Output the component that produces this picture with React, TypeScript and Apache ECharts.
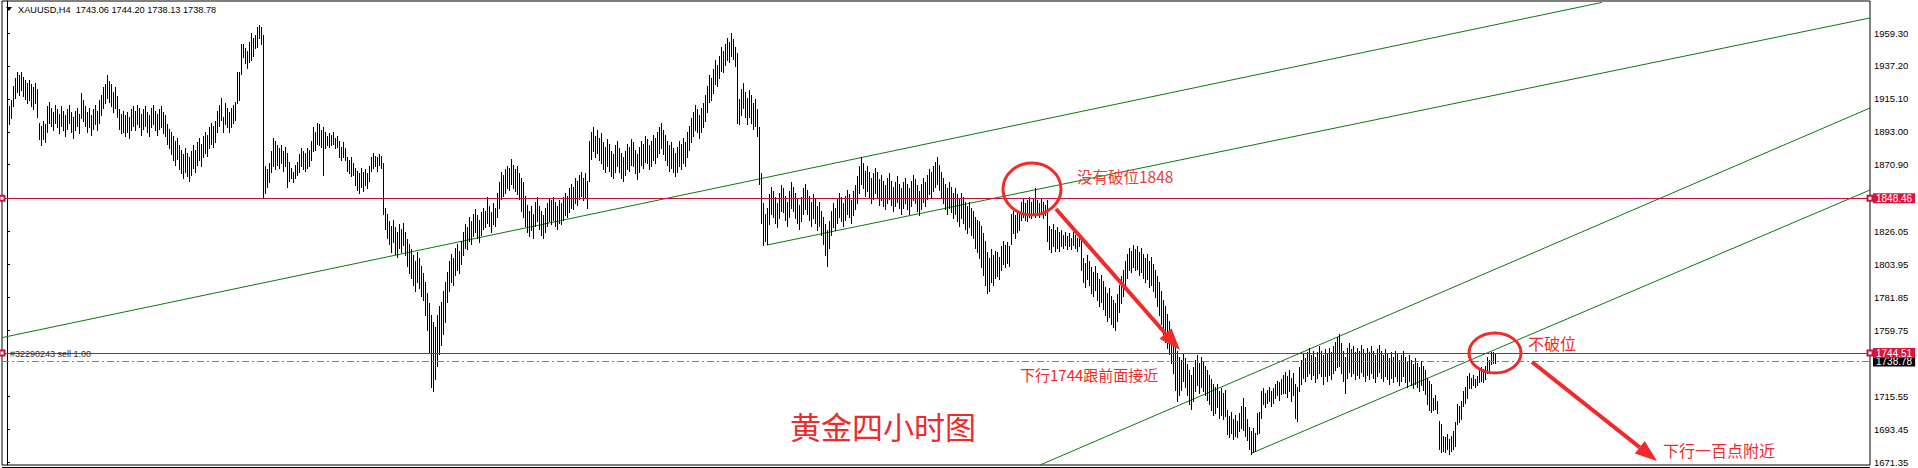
import React, { useEffect, useRef } from 'react';
import * as echarts from 'echarts';

// ---- bar data (4h bars, high / low) ----
const HIGH: number[] = [
  1906,1910,1914,1924,1929,1933,1931,1933,1930,1928,
  1926,1928,1925,1923,1926,1922,1899,1897,1900,1898,
  1910,1913,1909,1906,1911,1908,1905,1910,1907,1904,
  1908,1911,1906,1903,1907,1909,1905,1919,1914,1910,
  1906,1909,1904,1908,1911,1907,1914,1918,1923,1925,
  1931,1927,1925,1920,1923,1917,1908,1905,1907,1904,
  1906,1903,1908,1910,1907,1911,1909,1905,1908,1910,
  1906,1904,1909,1911,1907,1905,1908,1910,1906,1904,
  1898,1895,1893,1890,1887,1889,1884,1881,1878,1882,
  1879,1876,1880,1884,1881,1886,1889,1885,1890,1893,
  1891,1896,1899,1897,1900,1907,1911,1916,1903,1912,
  1909,1906,1909,1911,1913,1933,1933,1952,1952,1949,
  1947,1953,1959,1956,1958,1963,1965,1963,1958,1870,
  1868,1872,1880,1889,1887,1884,1882,1884,1880,1883,
  1879,1873,1869,1866,1871,1873,1878,1882,1880,1879,
  1882,1881,1887,1896,1893,1899,1898,1894,1896,1893,
  1890,1892,1891,1893,1889,1890,1887,1883,1886,1882,
  1876,1874,1876,1872,1869,1867,1865,1869,1866,1868,
  1865,1870,1876,1879,1877,1876,1878,1877,1872,1842,
  1838,1833,1830,1834,1829,1826,1831,1828,1832,1826,
  1821,1818,1814,1810,1806,1812,1808,1803,1798,1792,
  1785,1778,1770,1765,1762,1770,1776,1779,1786,1792,
  1799,1806,1811,1808,1815,1818,1813,1820,1826,1831,
  1829,1836,1833,1838,1841,1837,1834,1839,1842,1840,
  1849,1843,1839,1845,1842,1852,1859,1866,1864,1868,
  1870,1869,1875,1871,1868,1870,1865,1862,1859,1850,
  1844,1840,1843,1838,1846,1849,1843,1840,1837,1842,
  1845,1848,1847,1849,1846,1843,1847,1845,1849,1852,
  1850,1855,1858,1856,1862,1860,1864,1866,1862,1865,
  1860,1887,1893,1896,1890,1894,1889,1892,1886,1883,
  1888,1885,1880,1878,1884,1887,1882,1879,1876,1880,
  1885,1883,1888,1886,1881,1878,1883,1887,1885,1890,
  1888,1884,1887,1891,1889,1893,1896,1899,1894,1891,
  1887,1884,1886,1882,1879,1883,1887,1885,1889,1886,
  1893,1897,1902,1906,1911,1908,1904,1909,1912,1918,
  1924,1931,1929,1935,1941,1938,1944,1950,1947,1952,
  1956,1953,1959,1955,1950,1946,1915,1922,1926,1920,
  1916,1921,1918,1912,1915,1908,1896,1865,1845,1838,
  1842,1851,1856,1853,1849,1845,1852,1857,1855,1850,
  1846,1853,1859,1856,1852,1848,1844,1849,1855,1858,
  1854,1850,1846,1851,1848,1843,1846,1840,1836,1831,
  1827,1833,1840,1845,1842,1848,1852,1849,1845,1850,
  1854,1851,1847,1853,1857,1863,1870,1876,1872,1867,
  1870,1866,1862,1865,1869,1866,1861,1864,1860,1857,
  1862,1865,1860,1856,1859,1863,1858,1855,1859,1862,
  1858,1855,1860,1864,1861,1857,1853,1858,1862,1859,
  1864,1868,1866,1870,1873,1876,1871,1866,1862,1858,
  1855,1859,1856,1852,1855,1851,1848,1852,1849,1846,
  1843,1846,1842,1840,1836,1834,1833,1830,1825,1820,
  1812,1808,1814,1810,1813,1812,1809,1816,1820,1817,
  1819,1816,1838,1840,1837,1840,1838,1846,1848,1845,
  1847,1849,1846,1848,1855,1847,1845,1848,1846,1844,
  1847,1830,1828,1831,1827,1829,1826,1827,1824,1826,
  1823,1825,1822,1826,1824,1822,1825,1823,1808,1805,
  1810,1806,1802,1799,1803,1798,1794,1797,1793,1789,
  1785,1788,1783,1780,1778,1784,1790,1796,1800,1806,
  1811,1815,1813,1817,1814,1816,1812,1815,1811,1808,
  1811,1806,1809,1804,1800,1796,1792,1786,1780,1776,
  1771,1766,1760,1756,1750,1746,1742,1740,1744,1741,
  1737,1733,1730,1735,1740,1743,1738,1742,1739,1736,
  1733,1730,1727,1724,1722,1724,1719,1721,1718,1720,
  1706,1702,1705,1700,1703,1699,1704,1709,1714,1708,
  1700,1695,1692,1694,1691,1704,1705,1719,1721,1718,
  1720,1722,1719,1721,1724,1726,1725,1727,1730,1732,
  1729,1733,1728,1731,1724,1722,1735,1740,1744,1741,
  1745,1748,1743,1746,1742,1745,1749,1746,1743,1747,
  1744,1748,1745,1749,1752,1755,1757,1751,1746,1742,
  1748,1751,1747,1749,1745,1748,1746,1750,1747,1744,
  1748,1745,1749,1746,1743,1747,1750,1746,1743,1747,
  1744,1741,1745,1742,1746,1744,1740,1743,1746,1742,
  1739,1743,1740,1737,1741,1738,1735,1739,1736,1733,
  1728,1726,1724,1714,1716,1712,1699,1697,1689,1688,
  1690,1687,1689,1692,1698,1710,1709,1712,1719,1722,
  1729,1731,1728,1730,1727,1729,1733,1735,1734,1736,
  1742,1740,1745,1745.5,1744.2,
];

const LOW: number[] = [
  1893,1898,1902,1910,1916,1920,1918,1921,1917,1915,
  1912,1914,1910,1908,1912,1903,1888,1884,1888,1886,
  1893,1899,1897,1894,1899,1896,1892,1897,1894,1890,
  1895,1899,1893,1889,1894,1897,1892,1902,1900,1897,
  1893,1896,1891,1895,1898,1894,1899,1904,1909,1912,
  1916,1913,1910,1906,1909,1903,1895,1892,1893,1890,
  1893,1889,1894,1897,1894,1898,1896,1891,1895,1897,
  1893,1890,1896,1898,1894,1891,1895,1896,1892,1890,
  1885,1882,1878,1874,1871,1875,1868,1865,1862,1866,
  1863,1860,1864,1869,1866,1871,1874,1870,1876,1879,
  1877,1882,1885,1883,1886,1893,1897,1901,1893,1898,
  1896,1893,1896,1899,1901,1912,1914,1932,1943,1939,
  1936,1940,1941,1944,1949,1950,1956,1952,1849,1852,
  1856,1859,1866,1870,1868,1871,1869,1872,1867,1870,
  1856,1860,1862,1859,1862,1864,1866,1870,1868,1867,
  1869,1870,1874,1880,1881,1885,1884,1883,1864,1882,
  1884,1883,1884,1885,1882,1883,1876,1874,1876,1874,
  1867,1865,1863,1864,1857,1854,1852,1856,1853,1857,
  1855,1860,1867,1869,1870,1867,1871,1869,1838,1828,
  1822,1818,1812,1819,1811,1809,1815,1812,1817,1810,
  1803,1798,1795,1790,1786,1792,1788,1783,1780,1770,
  1760,1745,1722,1719,1727,1736,1744,1750,1757,1765,
  1779,1786,1792,1790,1797,1800,1798,1804,1810,1815,
  1814,1820,1818,1823,1826,1822,1819,1824,1828,1829,
  1832,1830,1826,1831,1830,1836,1842,1848,1850,1852,
  1855,1854,1858,1855,1853,1851,1848,1840,1836,1830,
  1826,1823,1827,1822,1830,1833,1828,1824,1822,1826,
  1830,1833,1831,1834,1830,1828,1832,1831,1834,1837,
  1836,1839,1842,1841,1845,1844,1848,1850,1847,1849,
  1842,1860,1875,1880,1876,1879,1874,1872,1868,1866,
  1870,1867,1863,1862,1866,1870,1866,1862,1860,1864,
  1868,1867,1871,1870,1865,1861,1866,1871,1869,1873,
  1872,1868,1870,1874,1872,1876,1879,1882,1878,1874,
  1871,1867,1869,1866,1863,1866,1870,1868,1872,1870,
  1876,1881,1886,1890,1894,1893,1889,1893,1896,1900,
  1906,1913,1914,1919,1925,1924,1929,1934,1933,1938,
  1941,1940,1944,1942,1937,1899,1898,1904,1909,1903,
  1898,1903,1899,1895,1897,1890,1858,1832,1817,1820,
  1818,1831,1838,1836,1832,1829,1835,1840,1839,1834,
  1830,1836,1842,1840,1835,1832,1828,1833,1838,1841,
  1838,1834,1830,1835,1832,1827,1830,1824,1818,1810,
  1803,1815,1824,1829,1827,1832,1836,1833,1830,1834,
  1838,1836,1832,1837,1841,1845,1852,1858,1855,1850,
  1853,1849,1845,1848,1852,1849,1844,1847,1843,1841,
  1845,1848,1844,1840,1843,1846,1842,1838,1842,1845,
  1841,1838,1843,1847,1845,1840,1837,1841,1846,1843,
  1848,1851,1849,1853,1856,1858,1854,1849,1845,1841,
  1838,1842,1839,1835,1838,1833,1830,1835,1832,1828,
  1825,1829,1824,1822,1815,1812,1808,1802,1797,1790,
  1785,1786,1792,1790,1795,1796,1794,1800,1804,1802,
  1805,1803,1818,1825,1822,1826,1827,1834,1836,1834,
  1833,1836,1835,1837,1836,1837,1836,1838,1835,1837,
  1820,1814,1812,1816,1813,1815,1813,1816,1815,1817,
  1814,1816,1814,1817,1815,1813,1816,1800,1792,1789,
  1794,1790,1785,1783,1787,1780,1776,1779,1774,1770,
  1766,1769,1764,1762,1760,1766,1772,1778,1783,1789,
  1795,1800,1799,1802,1800,1801,1797,1799,1795,1792,
  1794,1789,1790,1786,1782,1776,1770,1764,1757,1752,
  1748,1744,1738,1731,1720,1712,1716,1720,1726,1722,
  1716,1710,1707,1712,1719,1723,1718,1722,1719,1716,
  1713,1710,1706,1703,1704,1708,1701,1703,1700,1702,
  1690,1688,1691,1687,1689,1688,1692,1694,1693,1689,
  1686,1680,1677,1678,1679,1690,1691,1701,1710,1708,
  1711,1712,1709,1711,1714,1716,1713,1717,1718,1718,
  1715,1719,1712,1716,1701,1699,1719,1724,1728,1726,
  1729,1731,1727,1730,1725,1728,1731,1729,1724,1729,
  1726,1730,1727,1731,1733,1735,1736,1731,1726,1718,
  1728,1732,1729,1731,1727,1730,1728,1732,1729,1726,
  1730,1727,1731,1728,1725,1729,1732,1728,1726,1729,
  1727,1724,1728,1725,1729,1726,1723,1726,1729,1725,
  1722,1726,1723,1721,1724,1722,1719,1723,1720,1717,
  1710,1706,1705,1706,1707,1704,1680,1678,1679,1678,
  1680,1677,1679,1680,1682,1697,1698,1700,1709,1711,
  1714,1721,1721,1723,1722,1723,1725,1726,1725,1727,
  1731,1733,1737,1738,1738.13,
];

// ---- axis / levels ----
const Y_TICKS = [1671.35, 1693.45, 1715.55, 1759.75, 1781.85, 1803.95, 1826.05, 1870.9, 1893.0, 1915.1, 1937.2, 1959.3];
const Y_MIN = 1669.34;
const Y_MAX = 1980.78;
const X_MIN = -2.5;
const X_MAX = 931.5;
const LEVEL_RESIST = 1848.46;
const LEVEL_SELL = 1744.51;
const LEVEL_BID = 1738.78;
const HEADER = 'XAUUSD,H4  1743.06 1744.20 1738.13 1738.78';
const ORDER_TEXT = '#32290243 sell 1.00';

// trend lines: [barIndex, price]
const LINE_A = [[-2.5, 1754.85], [797.5, 1979.84]];
const LINE_B = [[380, 1817.0], [931.5, 1969.4]];
const LINE_C = [[516.5, 1669.34], [931.5, 1908.96]];
const LINE_D = [[622.5, 1677.39], [931.5, 1853.92]];

const RED = '#f02a2a';
const CJK = '"Noto Sans CJK SC", "Noto Sans", sans-serif';

function arrow(x1: number, y1: number, x2: number, y2: number, head: number, half: number, w: number) {
  const dx = x2 - x1, dy = y2 - y1;
  const len = Math.sqrt(dx * dx + dy * dy);
  const ux = dx / len, uy = dy / len;
  const bx = x2 - ux * head, by = y2 - uy * head;
  const nx = -uy, ny = ux;
  return [
    { type: 'line', shape: { x1, y1, x2: bx, y2: by }, style: { stroke: RED, lineWidth: w }, z: 100 },
    {
      type: 'polygon',
      shape: { points: [[x2, y2], [bx + nx * half, by + ny * half], [bx - nx * half, by - ny * half]] },
      style: { fill: RED }, z: 100,
    },
  ];
}

export default function App() {
  const ref = useRef<HTMLDivElement>(null);
  useEffect(() => {
    const chart = echarts.init(ref.current!, null, { renderer: 'svg' });
    const bars = HIGH.map((h, i) => [i, h, LOW[i]]);
    const trend = (d: number[][]) => ({
      type: 'line', data: d, symbol: 'none', silent: true, clip: true, z: 2,
      lineStyle: { color: '#0a7a0a', width: 1 },
    });
    const level = (v: number, z: number, opts: any) => ({
      type: 'line', data: [], silent: true, clip: false, z,
      markLine: {
        silent: true, animation: false,
        symbol: opts.symbol, symbolSize: 5,
        lineStyle: opts.lineStyle,
        label: opts.label,
        data: [{ yAxis: v }],
      },
    });
    const tag = (text: string, bg: string) => ({
      show: true, position: 'end', distance: 3, formatter: text,
      backgroundColor: bg, color: '#fff', fontSize: 10, fontFamily: 'Liberation Sans',
      padding: [1, 3, 0, 3], lineHeight: 9,
    });
    const option: any = {
      animation: false,
      backgroundColor: '#fff',
      grid: { left: 2, right: 48, top: 1, bottom: 3, show: true, borderColor: '#000', borderWidth: 1, backgroundColor: '#fff' },
      xAxis: { type: 'value', min: X_MIN, max: X_MAX, show: false },
      yAxis: {
        type: 'value', position: 'right', min: Y_MIN, max: Y_MAX, scale: true,
        splitLine: { show: false },
        axisLine: { show: true, lineStyle: { color: '#000' } },
        axisTick: { show: true, length: 3, customValues: Y_TICKS, lineStyle: { color: '#000' } },
        axisLabel: {
          customValues: Y_TICKS, formatter: (v: number) => v.toFixed(2),
          color: '#000', fontSize: 9.5, fontFamily: 'Liberation Sans', margin: 4,
        },
      },
      series: [
        trend(LINE_A), trend(LINE_B), trend(LINE_C), trend(LINE_D),
        level(LEVEL_RESIST, 4, {
          symbol: ['emptyRect', 'emptyRect'],
          lineStyle: { color: '#c8143c', width: 1, type: 'solid' },
          label: tag(LEVEL_RESIST.toFixed(2), '#dc143c'),
        }),
        level(LEVEL_BID, 4, {
          symbol: ['none', 'none'],
          lineStyle: { color: '#4f9a68', width: 1, type: [7, 3, 2, 3] },
          label: tag(LEVEL_BID.toFixed(2), '#000'),
        }),
        level(LEVEL_SELL, 5, {
          symbol: ['emptyRect', 'emptyRect'],
          lineStyle: { color: '#c8143c', width: 1, type: 'solid' },
          label: tag(LEVEL_SELL.toFixed(2), '#dc143c'),
        }),
        {
          type: 'custom', data: bars, encode: { x: 0, y: [1, 2] }, z: 3, clip: true, silent: true,
          renderItem: (params: any, api: any) => {
            const i = api.value(0);
            const p1 = api.coord([i, api.value(1)]);
            const p2 = api.coord([i, api.value(2)]);
            const x = Math.round(p1[0]) + 0.5;
            return {
              type: 'line',
              shape: { x1: x, y1: Math.round(p1[1]), x2: x, y2: Math.round(p2[1]) + 1 },
              style: { stroke: '#000', lineWidth: 1 },
            };
          },
        },
      ],
      graphic: [
        { type: 'polygon', shape: { points: [[6, 7], [12, 7], [9, 11]] }, style: { fill: '#000' }, z: 50 },
        { type: 'text', x: 18, y: 10, style: { text: HEADER, fill: '#000', fontSize: 9.2, fontFamily: 'Liberation Sans', verticalAlign: 'middle' }, z: 50 },
        { type: 'text', x: 10, y: 354, style: { text: ORDER_TEXT, fill: '#3a2a2a', fontSize: 9, fontFamily: 'Liberation Sans', verticalAlign: 'middle' }, z: 50 },
        { type: 'line', shape: { x1: 2, y1: 467.5, x2: 1870, y2: 467.5 }, style: { stroke: '#000', lineWidth: 1 }, z: 50 },
        { type: 'ellipse', shape: { cx: 1032, cy: 189, rx: 29, ry: 26 }, style: { fill: 'none', stroke: RED, lineWidth: 3 }, z: 100 },
        { type: 'ellipse', shape: { cx: 1495, cy: 353, rx: 26, ry: 20 }, style: { fill: 'none', stroke: RED, lineWidth: 3 }, z: 100 },
        ...arrow(1056, 209, 1180, 350, 22, 8, 4),
        ...arrow(1532, 362, 1657, 461, 22, 8, 4),
        { type: 'text', x: 1077, y: 176, style: { text: '没有破位1848', fill: '#ee3b3b', fontSize: 15.5, fontFamily: CJK, verticalAlign: 'middle' }, z: 100 },
        { type: 'text', x: 1020, y: 374, style: { text: '下行1744跟前面接近', fill: RED, fontSize: 15, fontFamily: CJK, verticalAlign: 'middle' }, z: 100 },
        { type: 'text', x: 1528, y: 343, style: { text: '不破位', fill: RED, fontSize: 16, fontFamily: CJK, verticalAlign: 'middle' }, z: 100 },
        { type: 'text', x: 1663, y: 450, style: { text: '下行一百点附近', fill: RED, fontSize: 16, fontFamily: CJK, verticalAlign: 'middle' }, z: 100 },
        { type: 'text', x: 790, y: 425, style: { text: '黄金四小时图', fill: RED, fontSize: 31, fontFamily: CJK, verticalAlign: 'middle' }, z: 100 },
      ],
    };
    chart.setOption(option);
    return () => chart.dispose();
  }, []);
  return <div ref={ref} style={{ position: 'fixed', left: 0, top: 0, width: 1918, height: 468, background: '#fff' }} />;
}
